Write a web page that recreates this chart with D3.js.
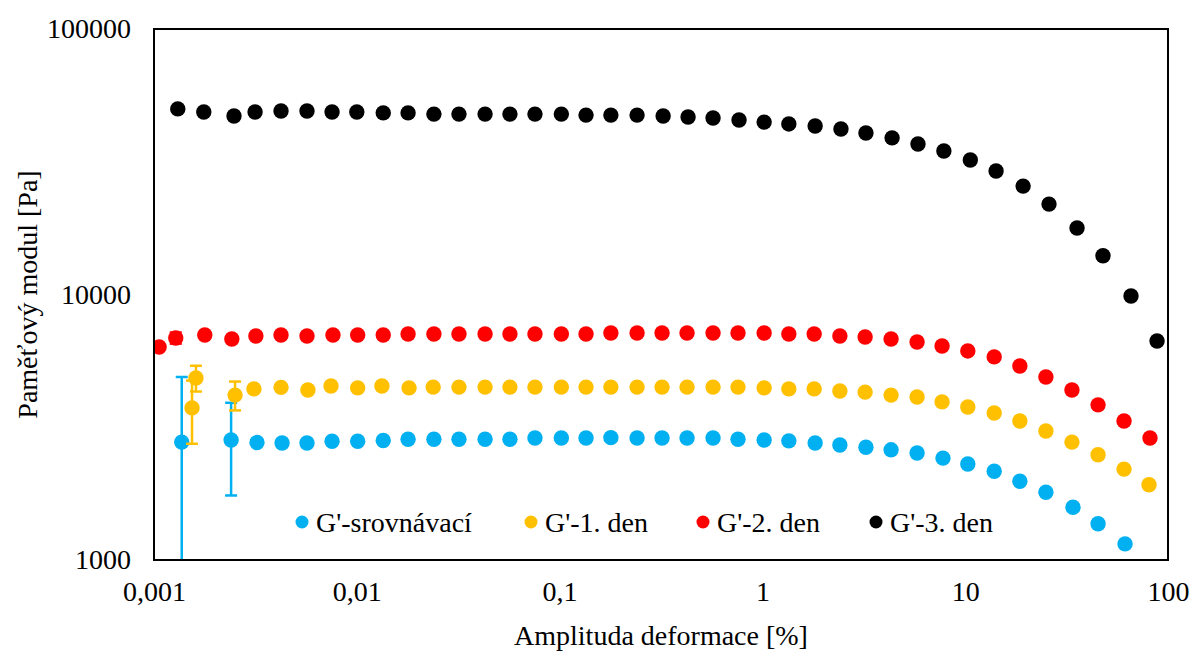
<!DOCTYPE html>
<html>
<head>
<meta charset="utf-8">
<script src="https://cdn.jsdelivr.net/npm/d3@7"></script>
<style>
  body { margin: 0; background: #fff; }
  text { font-family: "Liberation Serif", "Times New Roman", serif; }
</style>
</head>
<body>
<div id="wrapper"></div>
<script>
// 1. Data
const seriesNames = ["G'-srovnávací", "G'-1. den", "G'-2. den", "G'-3. den"]
const seriesColors = ["#00b0f0", "#ffc000", "#ff0000", "#000000"]

const strainSrov = [0.00137, 0.0024, 0.00322, 0.00428, 0.00568, 0.00755, 0.0101, 0.0135, 0.0179, 0.024,
  0.0319, 0.0429, 0.0569, 0.0756, 0.102, 0.135, 0.179, 0.241, 0.32, 0.425, 0.571, 0.758,
  1.02, 1.35, 1.82, 2.41, 3.24, 4.31, 5.79, 7.77, 10.3, 13.9, 18.6, 25.0, 34.0, 45.2, 61.4]
const gSrov = [2780, 2830, 2770, 2760, 2760, 2800, 2800, 2820, 2850, 2850,
  2850, 2850, 2850, 2880, 2880, 2880, 2890, 2880, 2880, 2880, 2880, 2850,
  2830, 2810, 2760, 2710, 2660, 2600, 2530, 2420, 2300, 2160, 1980, 1800, 1580, 1370, 1150]
const errSrov = [2110, 1080]

const strainDen1 = [0.00154, 0.00161, 0.00251, 0.00311, 0.00423, 0.00574, 0.00746, 0.0101, 0.0133, 0.0181, 0.0238,
  0.0319, 0.0429, 0.0569, 0.0756, 0.102, 0.135, 0.179, 0.241, 0.32, 0.425, 0.571, 0.758,
  1.02, 1.35, 1.8, 2.41, 3.21, 4.31, 5.79, 7.69, 10.3, 13.9, 18.6, 25.0, 33.6, 45.2, 60.7, 80.6]
const gDen1 = [3740, 4850, 4180, 4410, 4470, 4370, 4520, 4450, 4520, 4450, 4480,
  4480, 4480, 4480, 4480, 4480, 4480, 4480, 4480, 4480, 4480, 4480, 4480,
  4450, 4410, 4410, 4330, 4290, 4180, 4110, 3940, 3770, 3580, 3340, 3060, 2780, 2490, 2200, 1920]
const errDen1 = [1000, 540, 520]

const strainDen2 = [0.00106, 0.00128, 0.00178, 0.00242, 0.00318, 0.00423, 0.00568, 0.00763, 0.0101, 0.0135,
  0.0179, 0.024, 0.0319, 0.0429, 0.0569, 0.0756, 0.102, 0.135, 0.179, 0.241, 0.32, 0.425, 0.571, 0.758,
  1.02, 1.35, 1.8, 2.41, 3.21, 4.31, 5.79, 7.69, 10.3, 13.9, 18.6, 25.0, 33.6, 45.2, 60.7, 81.5]
const gDen2 = [6340, 6860, 7040, 6800, 6980, 7040, 6980, 7040, 7040, 7040,
  7100, 7100, 7100, 7100, 7100, 7100, 7100, 7100, 7160, 7160, 7160, 7160, 7160, 7160,
  7160, 7100, 7100, 6980, 6920, 6800, 6620, 6400, 6130, 5820, 5380, 4890, 4370, 3840, 3340, 2880]
const errDen2 = [0, 330]

const strainDen3 = [0.00131, 0.00176, 0.00248, 0.00315, 0.00423, 0.00568, 0.00755, 0.01, 0.0135, 0.0179,
  0.024, 0.0319, 0.0429, 0.0569, 0.0756, 0.102, 0.135, 0.179, 0.241, 0.324, 0.43, 0.571, 0.767,
  1.02, 1.35, 1.82, 2.44, 3.24, 4.36, 5.85, 7.85, 10.6, 14.2, 19.3, 25.9, 35.6, 47.8, 65.7, 88.3]
const gDen3 = [50000, 48700, 47000, 48700, 49100, 49100, 48700, 48700, 48300, 48300,
  47800, 47800, 47800, 47800, 47800, 47800, 47400, 47400, 47400, 47000, 46600, 46200, 45400,
  44600, 43900, 43100, 42000, 40600, 38900, 36900, 34700, 32100, 29200, 25600, 21900, 17800, 14000, 9870, 6680]
const errDen3 = []

const xTicks = [0.001, 0.01, 0.1, 1, 10, 100]
const yTicks = [1000, 10000, 100000]

const series = [
  [strainSrov, gSrov, errSrov],
  [strainDen1, gDen1, errDen1],
  [strainDen2, gDen2, errDen2],
  [strainDen3, gDen3, errDen3],
].map(([xs, ys, errs], i) => ({
  name: seriesNames[i],
  color: seriesColors[i],
  points: xs.map((x, j) => ({ x, y: ys[j], err: errs[j] || 0 }))
}))

// 2. Dimensions
let dimensions = {
  width: 1193,
  height: 652,
  margin: { top: 29, right: 25, bottom: 92, left: 154 }
}
dimensions.boundedWidth = dimensions.width - dimensions.margin.left - dimensions.margin.right
dimensions.boundedHeight = dimensions.height - dimensions.margin.top - dimensions.margin.bottom

// 3. Canvas
const wrapper = d3.select("#wrapper")
  .append("svg")
  .attr("width", dimensions.width)
  .attr("height", dimensions.height)

const bounds = wrapper.append("g")
  .attr("transform", `translate(${dimensions.margin.left},${dimensions.margin.top})`)

bounds.append("clipPath")
  .attr("id", "plot-clip")
  .append("rect")
  .attr("width", dimensions.boundedWidth)
  .attr("height", dimensions.boundedHeight)

// 4. Scales
const xScale = d3.scaleLog()
  .domain([0.001, 100])
  .range([0, dimensions.boundedWidth])

const yScale = d3.scaleLog()
  .domain([1000, 100000])
  .range([dimensions.boundedHeight, 0])

const commaFormat = d => String(d).replace(".", ",")

// 5. Axes
const xAxis = bounds.append("g")
  .attr("transform", `translate(0,${dimensions.boundedHeight})`)
  .call(d3.axisBottom(xScale).tickValues(xTicks).tickFormat(commaFormat).tickSize(0).tickPadding(21))
xAxis.select(".domain").remove()
xAxis.selectAll("text")
  .attr("fill", "#000")
  .style("font-size", "28px")
  .style("font-family", "Liberation Serif")

const yAxis = bounds.append("g")
  .call(d3.axisLeft(yScale).tickValues(yTicks).tickFormat(d3.format("d")).tickSize(0).tickPadding(23))
yAxis.select(".domain").remove()
yAxis.selectAll("text")
  .attr("fill", "#000")
  .style("font-size", "28px")
  .style("font-family", "Liberation Serif")

// 6. Data
const plot = bounds.append("g").attr("clip-path", "url(#plot-clip)")

series.forEach(s => {
  const g = plot.append("g")
  const withErr = s.points.filter(d => d.err > 0)
  g.selectAll("line.bar")
    .data(withErr)
    .join("line")
    .attr("class", "bar")
    .attr("x1", d => xScale(d.x))
    .attr("x2", d => xScale(d.x))
    .attr("y1", d => yScale(Math.max(d.y - d.err, 1)))
    .attr("y2", d => yScale(d.y + d.err))
    .attr("stroke", s.color)
    .attr("stroke-width", 2.5)
  const caps = withErr.flatMap(d => [d.y + d.err, d.y - d.err].filter(v => v > 1000).map(v => ({ x: d.x, v })))
  g.selectAll("line.cap")
    .data(caps)
    .join("line")
    .attr("class", "cap")
    .attr("x1", d => xScale(d.x) - 6)
    .attr("x2", d => xScale(d.x) + 6)
    .attr("y1", d => yScale(d.v))
    .attr("y2", d => yScale(d.v))
    .attr("stroke", s.color)
    .attr("stroke-width", 2.5)
  g.selectAll("circle")
    .data(s.points)
    .join("circle")
    .attr("cx", d => xScale(d.x))
    .attr("cy", d => yScale(d.y))
    .attr("r", 7.7)
    .attr("fill", s.color)
})

// 7. Frame
bounds.append("rect")
  .attr("width", dimensions.boundedWidth)
  .attr("height", dimensions.boundedHeight)
  .attr("fill", "none")
  .attr("stroke", "#000")
  .attr("stroke-width", 2)

// 8. Legend
const legendX = [302, 531, 703, 876]
const legend = bounds.selectAll("g.legend")
  .data(series)
  .join("g")
  .attr("class", "legend")
  .attr("transform", (d, i) => `translate(${legendX[i] - dimensions.margin.left},${522 - dimensions.margin.top})`)
legend.append("circle")
  .attr("r", 6.5)
  .attr("fill", d => d.color)
legend.append("text")
  .attr("x", 14)
  .attr("dy", "0.35em")
  .style("font-size", "28px")
  .text(d => d.name)

// 9. Axis titles
wrapper.append("text")
  .attr("x", dimensions.margin.left + dimensions.boundedWidth / 2)
  .attr("y", 645)
  .attr("text-anchor", "middle")
  .style("font-size", "28px")
  .text("Amplituda deformace [%]")

wrapper.append("text")
  .attr("transform", `translate(37,${dimensions.margin.top + dimensions.boundedHeight / 2}) rotate(-90)`)
  .attr("text-anchor", "middle")
  .style("font-size", "28px")
  .text("Paměťový modul [Pa]")
</script>
</body>
</html>
